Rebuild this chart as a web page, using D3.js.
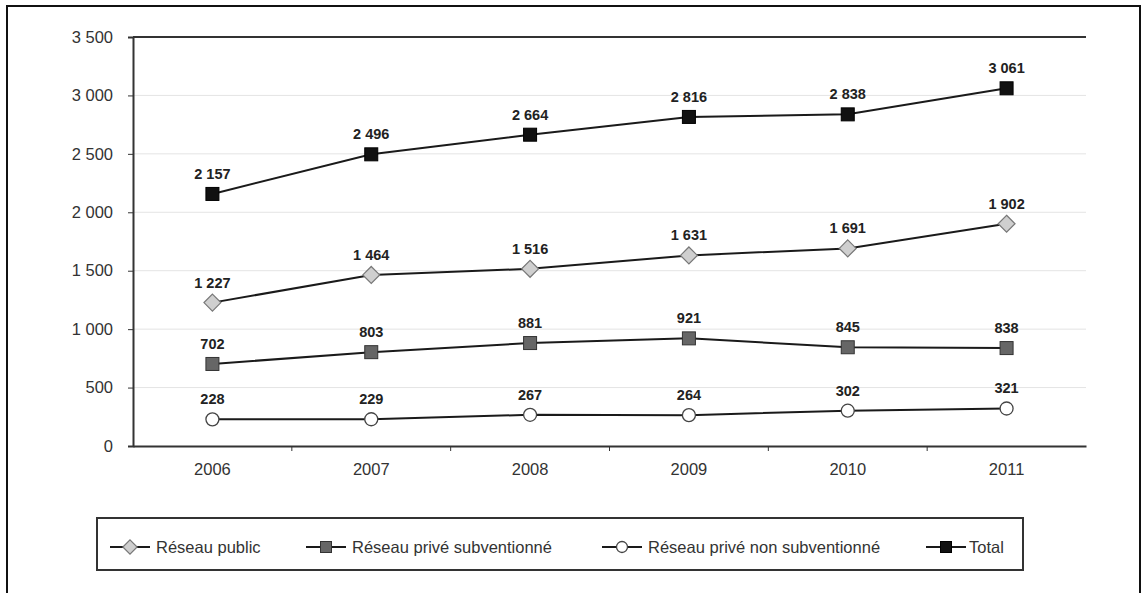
<!DOCTYPE html>
<html>
<head>
<meta charset="utf-8">
<script src="https://cdn.jsdelivr.net/npm/d3@7"></script>
<style>
  body { margin: 0; background: #fff; }
  svg { font-family: "Liberation Sans", Arial, sans-serif; }
</style>
</head>
<body>
<div id="chart"></div>
<script>
// chart data
var years = ['2006', '2007', '2008', '2009', '2010', '2011'];
var reseauPublic = [1227, 1464, 1516, 1631, 1691, 1902];
var priveSubv = [702, 803, 881, 921, 845, 838];
var priveNonSubv = [228, 229, 267, 264, 302, 321];
var total = [2157, 2496, 2664, 2816, 2838, 3061];
var yTicks = [0, 500, 1000, 1500, 2000, 2500, 3000, 3500];

var width = 1142, height = 593;
var plot = { left: 133, right: 1086, top: 37, bottom: 446 };
var LINE_COLOR = '#1a1a1a';
var TEXT_COLOR = '#333';

var series = [
  { name: 'Réseau public', values: reseauPublic, shape: 'diamond', fill: '#cfcfcf', stroke: '#777' },
  { name: 'Réseau privé subventionné', values: priveSubv, shape: 'square', fill: '#666', stroke: '#333' },
  { name: 'Réseau privé non subventionné', values: priveNonSubv, shape: 'circle', fill: '#fff', stroke: '#444' },
  { name: 'Total', values: total, shape: 'square', fill: '#111', stroke: '#000' }
];

var fmt = function(v) { return d3.format(',')(v).replace(/,/g, ' '); };

var svg = d3.select('#chart').append('svg')
  .attr('width', width)
  .attr('height', height);

// outer frame
svg.append('rect')
  .attr('x', 7).attr('y', 6)
  .attr('width', 1133).attr('height', 600)
  .attr('fill', 'none')
  .attr('stroke', '#111')
  .attr('stroke-width', 2);

var x = d3.scaleBand().domain(years).range([plot.left, plot.right]);
var y = d3.scaleLinear().domain([0, 3500]).range([plot.bottom, plot.top]);
var cx = function(i) { return x(years[i]) + x.bandwidth() / 2; };

// gridlines
svg.append('g')
  .selectAll('line')
  .data(yTicks.filter(function(t) { return t > 0 && t < 3500; }))
  .enter()
  .append('line')
  .attr('x1', plot.left).attr('x2', plot.right)
  .attr('y1', function(d) { return y(d); })
  .attr('y2', function(d) { return y(d); })
  .attr('stroke', '#e4e4e4')
  .attr('stroke-width', 1);

// top frame line
svg.append('line')
  .attr('x1', plot.left).attr('x2', plot.right)
  .attr('y1', y(3500)).attr('y2', y(3500))
  .attr('stroke', '#333').attr('stroke-width', 2);

// y axis
var yAxis = svg.append('g')
  .attr('transform', 'translate(' + plot.left + ',0)')
  .call(d3.axisLeft(y).tickValues(yTicks).tickSize(5).tickPadding(15).tickFormat(fmt));
yAxis.select('.domain').attr('stroke', '#333').attr('stroke-width', 2);
yAxis.selectAll('.tick line').attr('stroke', '#333');
yAxis.selectAll('text').attr('font-size', 16.5).attr('fill', TEXT_COLOR);

// x axis
var xAxis = svg.append('g')
  .attr('transform', 'translate(0,' + plot.bottom + ')')
  .call(d3.axisBottom(x).tickSize(0).tickPadding(17));
xAxis.select('.domain').attr('stroke', '#333').attr('stroke-width', 2);
xAxis.selectAll('text').attr('font-size', 16.5).attr('fill', TEXT_COLOR);
// tick marks between categories
svg.append('g')
  .selectAll('line')
  .data(years.slice(1))
  .enter()
  .append('line')
  .attr('x1', function(d) { return x(d); })
  .attr('x2', function(d) { return x(d); })
  .attr('y1', plot.bottom).attr('y2', plot.bottom + 5)
  .attr('stroke', '#333');

function drawMarker(g, s, size) {
  if (s.shape === 'square') {
    g.append('rect')
      .attr('x', -size / 2).attr('y', -size / 2)
      .attr('width', size).attr('height', size)
      .attr('fill', s.fill).attr('stroke', s.stroke).attr('stroke-width', 1);
  } else if (s.shape === 'diamond') {
    var r = size * 0.65;
    g.append('path')
      .attr('d', 'M0,' + (-r) + 'L' + r + ',0L0,' + r + 'L' + (-r) + ',0Z')
      .attr('fill', s.fill).attr('stroke', s.stroke).attr('stroke-width', 1.2);
  } else {
    g.append('circle')
      .attr('r', size / 2)
      .attr('fill', s.fill).attr('stroke', s.stroke).attr('stroke-width', 1.3);
  }
}

var line = d3.line()
  .x(function(d, i) { return cx(i); })
  .y(function(d) { return y(d); });

series.forEach(function(s) {
  svg.append('path')
    .datum(s.values)
    .attr('d', line)
    .attr('fill', 'none')
    .attr('stroke', LINE_COLOR)
    .attr('stroke-width', 2);

  s.values.forEach(function(v, i) {
    var g = svg.append('g').attr('transform', 'translate(' + cx(i) + ',' + y(v) + ')');
    drawMarker(g, s, 13);
  });

  svg.append('g')
    .selectAll('text')
    .data(s.values)
    .enter()
    .append('text')
    .attr('x', function(d, i) { return cx(i); })
    .attr('y', function(d) { return y(d) - 15; })
    .attr('text-anchor', 'middle')
    .attr('font-size', 14.5)
    .attr('font-weight', 'bold')
    .attr('fill', '#222')
    .text(function(d) { return fmt(d); });
});

// legend
var legend = svg.append('g');
legend.append('rect')
  .attr('x', 97).attr('y', 518)
  .attr('width', 926).attr('height', 52)
  .attr('fill', '#fff')
  .attr('stroke', '#333')
  .attr('stroke-width', 2);

var legendX = [130, 326, 622, 946];
series.forEach(function(s, i) {
  var g = legend.append('g').attr('transform', 'translate(' + legendX[i] + ',547)');
  g.append('line')
    .attr('x1', -20).attr('x2', 20)
    .attr('stroke', LINE_COLOR).attr('stroke-width', 2);
  drawMarker(g, s, 11);
  g.append('text')
    .attr('x', i === 3 ? 23 : 26)
    .attr('y', 6)
    .attr('font-size', 16.5)
    .attr('fill', TEXT_COLOR)
    .text(s.name);
});
</script>
</body>
</html>
